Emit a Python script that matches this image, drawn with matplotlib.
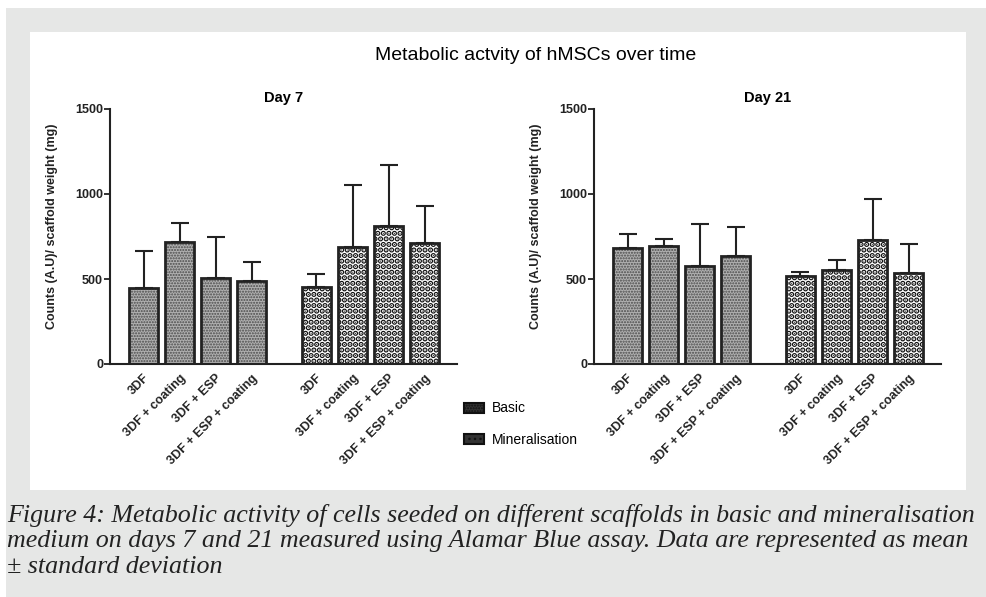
import matplotlib
matplotlib.use("Agg")
import matplotlib.pyplot as plt
import numpy as np
from matplotlib.patches import Patch, Rectangle

plt.rcParams['font.family'] = ['Liberation Sans', 'DejaVu Sans']

# ---- data ----
scaffolds = ['3DF', '3DF + coating', '3DF + ESP', '3DF + ESP + coating']
media = ['Basic', 'Mineralisation']
days = ['Day 7', 'Day 21']

day7_basic = [450, 719, 505, 489]
day7_basic_sd = [216, 110, 243, 112]
day7_min = [455, 691, 811, 709]
day7_min_sd = [73, 363, 361, 218]

day21_basic = [681, 693, 574, 638]
day21_basic_sd = [81, 45, 252, 167]
day21_min = [519, 552, 728, 536]
day21_min_sd = [21, 57, 243, 167]

means = {'Day 7': (day7_basic, day7_min), 'Day 21': (day21_basic, day21_min)}
sds = {'Day 7': (day7_basic_sd, day7_min_sd), 'Day 21': (day21_basic_sd, day21_min_sd)}

# bar styles: (face, hatch, hatch colour, hatch linewidth)
styles = [('#b0b0b0', '......', '#4a4a4a', 1.0), ('white', '...', '#111111', 2.8)]
dark = '#222222'

W, H = 986, 597
fig = plt.figure(figsize=(W / 100, H / 100), dpi=100)
fig.patch.set_facecolor('white')
# grey page background and the white chart panel
fig.patches.append(Rectangle((6 / W, -0.1), 1.2, 1.1 - 8 / H, transform=fig.transFigure,
                             facecolor='#e6e7e6', edgecolor='none', zorder=-3))
fig.patches.append(Rectangle((30 / W, 1 - 490 / H), (966 - 30) / W, (490 - 32) / H,
                             transform=fig.transFigure, facecolor='white',
                             edgecolor='none', zorder=-2))

fig.text(536 / W, 1 - 55 / H, 'Metabolic actvity of hMSCs over time',
         ha='center', va='center', fontsize=14)

x = np.r_[np.arange(4), np.arange(4) + 4.8]
xlabels = scaffolds + scaffolds
bw = 0.82

axes_left = [110, 594]
for day, left, ylx in zip(days, axes_left, [52, 536]):
    ax = fig.add_axes([left / W, 1 - 364 / H, 347 / W, (364 - 109) / H])
    ax.patch.set_alpha(0)
    vals = np.r_[means[day][0], means[day][1]]
    err = np.r_[sds[day][0], sds[day][1]]
    ax.errorbar(x, vals, yerr=[np.zeros_like(err), err], fmt='none',
                ecolor=dark, elinewidth=1.5, capsize=6.8, capthick=1.5, zorder=1)
    for k in range(2):
        face, hatch, hc, hlw = styles[k]
        sl = slice(4 * k, 4 * k + 4)
        with plt.rc_context({'hatch.linewidth': hlw}):
            bars = ax.bar(x[sl], vals[sl], bw, color=face, hatch=hatch, edgecolor=hc,
                          linewidth=0, zorder=2)
        for b in bars:
            if hasattr(b, 'set_hatch_linewidth'):
                b.set_hatch_linewidth(hlw)
        ax.bar(x[sl], vals[sl], bw, fill=False, edgecolor=dark, linewidth=2, zorder=3)
    ax.set_xlim(-0.93, 8.7)
    ax.set_ylim(0, 1500)
    ax.set_yticks([0, 500, 1000, 1500])
    ax.set_xticks(x)
    ax.set_xticklabels(xlabels, rotation=45, ha='right', rotation_mode='anchor',
                       fontsize=9, fontweight='bold', color='#222')
    ax.tick_params(axis='x', length=0, pad=6)
    ax.tick_params(axis='y', length=4, width=1.3, color=dark, labelsize=9, pad=1)
    for t in ax.get_yticklabels():
        t.set_fontweight('bold')
        t.set_color('#222')
    for s in ['top', 'right']:
        ax.spines[s].set_visible(False)
    for s in ['left', 'bottom']:
        ax.spines[s].set_linewidth(1.5)
        ax.spines[s].set_color(dark)
    ax.set_title(day, fontsize=10.5, fontweight='bold', pad=5)
    fig.text(ylx / W, 1 - 226 / H, 'Counts (A.U)/ scaffold weight (mg)', rotation=90,
             ha='center', va='center', fontsize=9, fontweight='bold', color='#222')

handles = [Patch(facecolor='#333333', hatch=styles[k][1], edgecolor='#111111', linewidth=1.5)
           for k in range(2)]
fig.legend(handles, media, loc='upper left', bbox_to_anchor=(451 / W, 1 - 389 / H),
           frameon=False, fontsize=10, handlelength=1.44, handleheight=0.72,
           labelspacing=1.25, handletextpad=0.6)

caption = ['Figure 4: Metabolic activity of cells seeded on different scaffolds in basic and mineralisation',
           'medium on days 7 and 21 measured using Alamar Blue assay. Data are represented as mean',
           '\u00b1 standard deviation']
for i, line in enumerate(caption):
    fig.text(7 / W, 1 - (522 + 25.5 * i) / H, line, ha='left', va='baseline',
             fontsize=18.7, fontstyle='italic', family='Liberation Serif', color='#222')

fig.savefig('out.png', dpi=100)
